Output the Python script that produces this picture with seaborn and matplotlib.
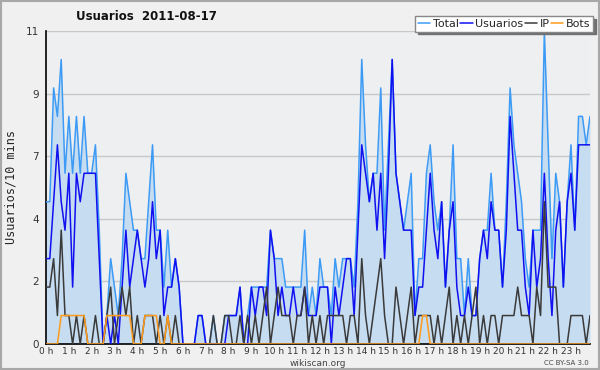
import numpy as np
import pandas as pd
import seaborn as sns
import matplotlib.pyplot as plt

# valores cada 10 minutos (144 puntos)
total = [5, 5, 9, 8, 10, 6, 8, 6, 8, 6, 8, 6, 6, 7, 4, 0, 1, 3, 2, 1, 3, 6, 5, 4,
         4, 3, 3, 5, 7, 4, 4, 2, 4, 2, 3, 2, 0, 0, 0, 0, 1, 1, 0, 0, 1, 0, 0, 1,
         1, 1, 1, 2, 0, 1, 2, 2, 2, 2, 2, 4, 3, 3, 3, 2, 2, 2, 2, 2, 4, 1, 2, 1,
         3, 2, 2, 1, 3, 2, 3, 3, 3, 2, 5, 10, 7, 5, 6, 6, 9, 4, 7, 10, 6, 5, 4, 5,
         6, 1, 3, 3, 6, 7, 5, 4, 5, 2, 4, 7, 3, 3, 1, 3, 1, 1, 3, 4, 4, 6, 4, 4,
         2, 5, 9, 7, 6, 5, 3, 2, 4, 4, 4, 11, 7, 3, 6, 5, 2, 5, 7, 4, 8, 8, 7, 8]
usuarios = [3, 3, 5, 7, 5, 4, 6, 2, 6, 5, 6, 6, 6, 6, 3, 0, 1, 0, 1, 0, 2, 4, 2, 3,
            4, 3, 2, 3, 5, 3, 4, 1, 2, 2, 3, 2, 0, 0, 0, 0, 1, 1, 0, 0, 0, 0, 0, 0,
            1, 1, 1, 2, 0, 0, 2, 1, 2, 2, 1, 4, 3, 1, 2, 1, 1, 2, 1, 1, 2, 1, 1, 1,
            2, 2, 2, 0, 2, 1, 2, 3, 3, 1, 4, 7, 6, 5, 6, 4, 6, 3, 6, 10, 6, 5, 4, 4,
            4, 1, 2, 2, 4, 6, 4, 3, 5, 2, 4, 5, 2, 1, 1, 2, 1, 1, 3, 4, 3, 5, 4, 4,
            2, 4, 8, 6, 4, 4, 2, 1, 4, 2, 3, 6, 3, 1, 4, 5, 2, 5, 6, 4, 7, 7, 7, 7]
ip = [2, 2, 3, 1, 4, 1, 1, 0, 1, 0, 1, 0, 0, 1, 0, 0, 1, 2, 0, 1, 2, 1, 2, 0,
      1, 0, 1, 1, 1, 0, 1, 0, 1, 0, 1, 0, 0, 0, 0, 0, 0, 0, 0, 0, 1, 0, 0, 1,
      1, 0, 0, 1, 0, 1, 0, 1, 0, 1, 2, 0, 1, 2, 1, 1, 1, 0, 1, 1, 2, 0, 1, 0,
      1, 0, 1, 1, 1, 1, 1, 0, 1, 1, 0, 3, 1, 0, 1, 2, 3, 1, 0, 0, 2, 1, 0, 1,
      2, 0, 1, 1, 1, 1, 0, 1, 0, 1, 2, 0, 1, 0, 1, 0, 1, 2, 0, 1, 0, 1, 1, 0,
      1, 1, 1, 1, 2, 1, 1, 1, 0, 2, 1, 5, 2, 2, 2, 0, 0, 0, 1, 1, 1, 1, 0, 1]
bots = [0, 0, 0, 0, 1, 1, 1, 1, 1, 1, 1, 0, 0, 0, 0, 0, 1, 1, 1, 1, 1, 1, 1, 0,
        0, 0, 1, 1, 1, 1, 0, 0, 1, 0, 0, 0, 0, 0, 0, 0, 0, 0, 0, 0, 0, 0, 0, 0,
        0, 0, 0, 0, 0, 0, 0, 0, 0, 0, 0, 0, 0, 0, 0, 0, 0, 0, 0, 0, 0, 0, 0, 0,
        0, 0, 0, 0, 0, 0, 0, 0, 0, 0, 0, 0, 0, 0, 0, 0, 0, 0, 0, 0, 0, 0, 0, 0,
        0, 0, 0, 1, 1, 0, 0, 0, 0, 0, 0, 0, 0, 0, 0, 0, 0, 0, 0, 0, 0, 0, 0, 0,
        0, 0, 0, 0, 0, 0, 0, 0, 0, 0, 0, 0, 0, 0, 0, 0, 0, 0, 0, 0, 0, 0, 0, 0]
hour_labels = [f"{h} h" for h in range(24)]
ytick_labels = ["0", "2", "4", "7", "9", "11"]

df = pd.DataFrame({"t": np.arange(len(total)), "Total": total, "Usuarios": usuarios,
                   "IP": ip, "Bots": bots})
colors = {"Total": "#3d9bf5", "Usuarios": "#1010f0", "IP": "#3a3a3a", "Bots": "#ff9a1a"}

sns.set_style("white")
plt.rcParams["font.family"] = ["DejaVu Sans"]

fig = plt.figure(figsize=(6, 3.7), dpi=100, facecolor="#f0f0f0")
ax = fig.add_axes([46 / 600, 26 / 370, 544 / 600, 313 / 370])
ax.set_facecolor("#eeeff1")

ax.fill_between(df["t"], df["Total"], color="#c6dcf0", lw=0, zorder=1)
for name in ["Total", "Usuarios", "IP", "Bots"]:
    sns.lineplot(data=df, x="t", y=name, ax=ax, color=colors[name], lw=1.1,
                 label=name, zorder=3)

ax.set_xlim(0, 143)
ax.set_ylim(0, 11)
ax.set_yticks(np.linspace(0, 11, 6))
ax.set_yticklabels(ytick_labels, fontsize=7.5, color="#333333")
ax.set_yticks(np.arange(0, 11.01, 0.55), minor=True)
ax.set_xticks(np.arange(0, 144, 6))
ax.set_xticklabels(hour_labels, fontsize=6.5, color="#333333")
ax.set_xticks(np.arange(0, 144, 2), minor=True)
ax.tick_params(axis="both", which="major", length=4, width=1, color="black", pad=1)
ax.tick_params(axis="x", which="major", pad=-1.5)
ax.tick_params(axis="both", which="minor", length=3, width=1, color="black")
ax.grid(axis="y", which="major", color="#c8c8c8", lw=1)
ax.set_axisbelow(True)
for s in ["top", "right"]:
    ax.spines[s].set_visible(False)
for s in ["left", "bottom"]:
    ax.spines[s].set_color("black")
    ax.spines[s].set_linewidth(1.2)
ax.set_xlabel("")
ax.set_ylabel("Usuarios/10 mins", fontsize=8.5, family="DejaVu Sans Mono", labelpad=6)

leg = ax.legend(loc="upper right", bbox_to_anchor=(593 / 600, 1 - 16 / 370),
                bbox_transform=fig.transFigure, ncol=4, frameon=True, fancybox=False,
                shadow={"color": "#707070", "alpha": 1}, fontsize=8, handlelength=1.1,
                handletextpad=0.25, columnspacing=0.1, borderpad=0.25, borderaxespad=0)
leg.get_frame().set_edgecolor("#888888")
leg.get_frame().set_linewidth(1)

fig.text(146 / 600, 1 - 17 / 370, "Usuarios  2011-08-17", ha="center", va="center",
         fontsize=8.5, fontweight="bold", color="#111111")
fig.text(318 / 600, 1 - 363 / 370, "wikiscan.org", ha="center", va="center",
         fontsize=6.5, color="#444444")
fig.text(589 / 600, 1 - 363 / 370, "CC BY-SA 3.0", ha="right", va="center",
         fontsize=5, color="#444444")
fig.patches.append(plt.Rectangle((0.0015, 0.0025), 0.997, 0.995, transform=fig.transFigure,
                                 fill=False, edgecolor="#a8a8a8", lw=1.5))

fig.savefig("out.png", dpi=100, facecolor=fig.get_facecolor())
